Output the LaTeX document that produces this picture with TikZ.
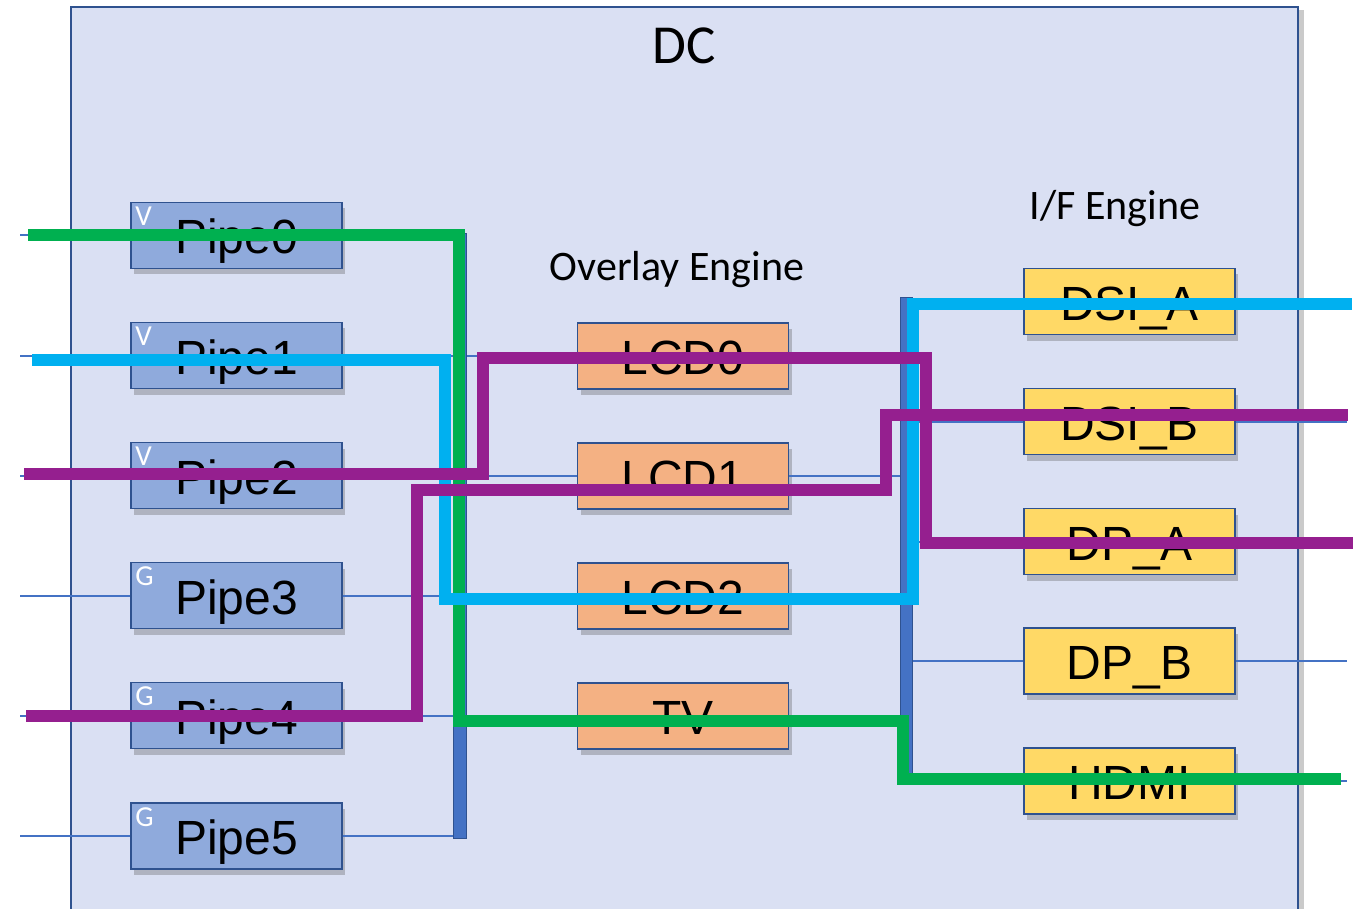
\documentclass[tikz,border=0pt]{standalone}
\usepackage{fontspec}
\setmainfont{Liberation Sans}
\newfontfamily\calib{Carlito}
\usetikzlibrary{shadows}
\definecolor{dcfill}{HTML}{DAE0F3}
\definecolor{edge}{HTML}{2F528F}
\definecolor{pipefill}{HTML}{8FAADC}
\definecolor{lcdfill}{HTML}{F4B183}
\definecolor{iffill}{HTML}{FFD966}
\definecolor{acc}{HTML}{4472C4}
\definecolor{cgreen}{HTML}{00B050}
\definecolor{cblue}{HTML}{00B0F0}
\definecolor{cpurple}{HTML}{951F8F}
\begin{document}
\begin{tikzpicture}[x=1pt,y=-1pt,
  box/.style={draw=edge, line width=1.8pt, minimum width=211pt, minimum height=66pt,
    inner sep=0pt, text height=37pt, text depth=0pt, font=\fontsize{48}{48}\selectfont,
    drop shadow={shadow xshift=3pt, shadow yshift=-6pt, fill=black!70, opacity=0.3}},
  pipe/.style={box, fill=pipefill},
  lcd/.style={box, fill=lcdfill},
  ifb/.style={box, fill=iffill},
  tag/.style={text=white, font=\calib\fontsize{29}{29}\selectfont, inner sep=0pt,
    anchor=north west, xshift=5pt, yshift=-5pt},
  bus/.style={draw=edge, line width=1pt, fill=acc, inner sep=0pt},
  wire/.style={draw=acc, line width=2pt},
  route/.style={line width=12pt, line cap=butt, line join=miter},
  head/.style={font=\calib\fontsize{42}{42}\selectfont, inner sep=0pt, anchor=base}
]
\useasboundingbox (0,0) rectangle (1360,909);
\begin{scope}
\clip (0,0) rectangle (1360,909);
% outer DC box
\node[draw=edge, line width=2pt, fill=dcfill, minimum width=1227pt, minimum height=923pt,
  inner sep=0pt, drop shadow={shadow xshift=6pt, shadow yshift=-3pt, fill=black!60, opacity=0.35}]
  (dc) at (684.5,468.5) {};
\node[head, font=\calib\fontsize{55}{55}\selectfont] (dct) at (684.5,64) {DC};
\node[head] (ovt) at (677,281) {Overlay Engine};
\node[head] (ift) at (1115,220) {I/F Engine};

% buses
\node[bus, minimum width=13pt, minimum height=604pt] (lbus) at (460,536) {};
\node[bus, minimum width=12pt, minimum height=486pt] (rbus) at (906,541) {};

% pipes
\node[pipe, label={[tag]north west:V}] (p0) at (236.5,235.5) {Pipe0};
\node[pipe, label={[tag]north west:V}] (p1) at (236.5,355.5) {Pipe1};
\node[pipe, label={[tag]north west:V}] (p2) at (236.5,475.5) {Pipe2};
\node[pipe, label={[tag]north west:G}] (p3) at (236.5,595.5) {Pipe3};
\node[pipe, label={[tag]north west:G}] (p4) at (236.5,715.5) {Pipe4};
\node[pipe, label={[tag]north west:G}] (p5) at (236.5,836) {Pipe5};

% overlay
\node[lcd] (l0) at (683,356) {LCD0};
\node[lcd] (l1) at (683,476) {LCD1};
\node[lcd] (l2) at (683,596) {LCD2};
\node[lcd] (tv) at (683,716) {TV};

% interfaces
\node[ifb] (da) at (1129.5,301.5) {DSI\_A};
\node[ifb] (db) at (1129.5,421.5) {DSI\_B};
\node[ifb] (pa) at (1129.5,541.5) {DP\_A};
\node[ifb] (pb) at (1129.5,661) {DP\_B};
\node[ifb] (hd) at (1129.5,781) {HDMI};

% thin wires
\foreach \p in {p0,p1,p2,p3,p4,p5}{
  \coordinate (in\p) at (20,0 |- \p.west);
  \draw[wire] (in\p) -- (\p.west);
  \draw[wire] (\p.east) -- (\p.east -| lbus.west);
}
\foreach \l in {l0,l1,l2,tv}{
  \draw[wire] (lbus.east |- \l.west) -- (\l.west);
  \draw[wire] (\l.east) -- (\l.east -| rbus.west);
}
\foreach \d in {da,db,pa,pb,hd}{
  \coordinate (out\d) at (1347,0 |- \d.east);
  \draw[wire] (rbus.east |- \d.west) -- (\d.west);
  \draw[wire] (\d.east) -- (out\d);
}

% highlighted routes
\coordinate (gs) at (28,235);   \coordinate (ge) at (1341,778.5);
\coordinate (bs) at (32,360);   \coordinate (be) at (1352,304);
\coordinate (as) at (24,474);   \coordinate (ae) at (1353,542.5);
\coordinate (cs) at (26,715.5); \coordinate (ce) at (1348,415);
\draw[route, cgreen] (gs) -- (459,235) -- (459,721) -- (903,721) -- (903,778.5) -- (ge);
\draw[route, cblue] (bs) -- (445,360) -- (445,599) -- (912.5,599) -- (912.5,304) -- (be);
\draw[route, cpurple] (cs) -- (416.5,715.5) -- (416.5,489.5) -- (886,489.5) -- (886,415) -- (ce);
\draw[route, cpurple] (as) -- (483,474) -- (483,357.5) -- (926,357.5) -- (926,542.5) -- (ae);
\end{scope}
\end{tikzpicture}
\end{document}
